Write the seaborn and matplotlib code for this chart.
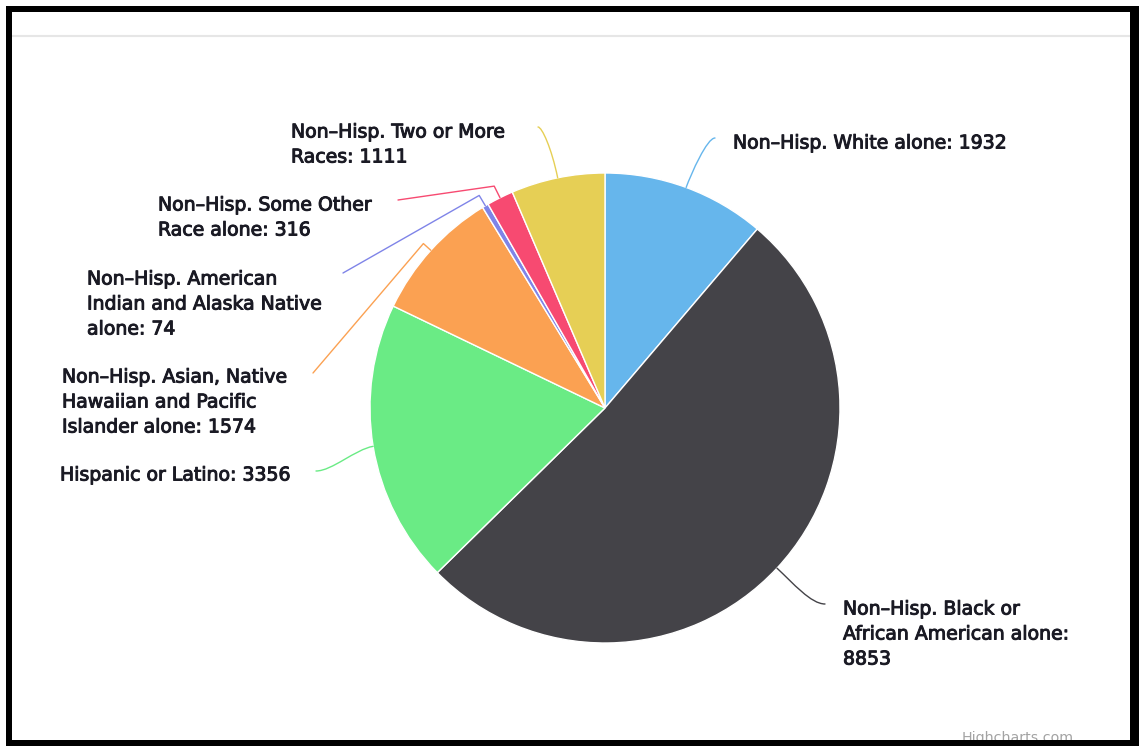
#--Race / ethnicity pie chart (Highcharts look) drawn with seaborn + matplotlib--#
import numpy as np
import seaborn as sns
import matplotlib.pyplot as plt
import matplotlib.patheffects as pe
from matplotlib.path import Path
from matplotlib.patches import PathPatch, Rectangle

#--Data--#
groups = [
    "Non–Hisp. White alone",
    "Non–Hisp. Black or African American alone",
    "Hispanic or Latino",
    "Non–Hisp. Asian, Native Hawaiian and Pacific Islander alone",
    "Non–Hisp. American Indian and Alaska Native alone",
    "Non–Hisp. Some Other Race alone",
    "Non–Hisp. Two or More Races",
]
counts = [1932, 8853, 3356, 1574, 74, 316, 1111]

# label text broken into lines the way the chart wraps them
label_lines = [
    ["Non–Hisp. White alone: 1932"],
    ["Non–Hisp. Black or", "African American alone:", "8853"],
    ["Hispanic or Latino: 3356"],
    ["Non–Hisp. Asian, Native", "Hawaiian and Pacific", "Islander alone: 1574"],
    ["Non–Hisp. American", "Indian and Alaska Native", "alone: 74"],
    ["Non–Hisp. Some Other", "Race alone: 316"],
    ["Non–Hisp. Two or More", "Races: 1111"],
]

#--Style--#
sns.set_theme(style="white")
plt.rcParams['font.family'] = ['DejaVu Sans']
colors = sns.color_palette(["#66b6ec", "#444348", "#6aeb85", "#fba152",
                            "#7f84e8", "#f74a71", "#e6cf55"])

W, H = 1139, 746
fig = plt.figure(figsize=(W / 100, H / 100), dpi=100)
ax = fig.add_axes([0, 0, 1, 1])

cx, cy, R = 605, 408, 235
# y axis is flipped (pixel-like), so counterclock=True + start -90 runs clockwise from 12 o'clock
ax.pie(counts, colors=colors, startangle=-90, counterclock=True,
       center=(cx, cy), radius=R,
       wedgeprops=dict(edgecolor="white", linewidth=1.0))
ax.set_xlim(0, W)
ax.set_ylim(H, 0)
ax.set_aspect("equal")
ax.axis("off")

#--Label placement (layout)--#
# left x of the text block, y of each line, connector end, connector style
layout = [
    dict(x=733, ys=[143], end=(715, 138), mode="curve", a=15, b=(-8, 0)),
    dict(x=843, ys=[609, 634, 659], end=(825, 604), mode="curve", a=22, b=(-14, 0)),
    dict(x=60, ys=[475], end=(316, 471), mode="curve", a=18, b=(16, 0)),
    dict(x=62, ys=[377, 402, 427], end=(313, 373), mode="elbow", a=10),
    dict(x=87, ys=[279, 304, 329], end=(343, 273), mode="elbow", a=12),
    dict(x=158, ys=[205, 230], end=(398, 200), mode="elbow", a=13),
    dict(x=291, ys=[132, 157], end=(538, 127), mode="curve", a=30, b=(4, 0)),
]

total = float(np.sum(counts))
mids = 360.0 * (np.cumsum(counts) - np.array(counts) / 2.0) / total
txt_fx = [pe.withStroke(linewidth=0.7, foreground="#1a1a24")]

for i, lay in enumerate(layout):
    th = np.radians(mids[i])
    d = np.array([np.sin(th), -np.cos(th)])
    s = np.array([cx, cy]) + R * d
    e = np.array(lay["end"], dtype=float)
    if lay["mode"] == "curve":
        c1 = s + d * lay["a"]
        c2 = e + np.array(lay["b"])
        verts = [s, c1, c2, e]
        codes = [Path.MOVETO, Path.CURVE4, Path.CURVE4, Path.CURVE4]
    else:
        elbow = s + d * lay["a"]
        verts = [s, elbow, e]
        codes = [Path.MOVETO, Path.LINETO, Path.LINETO]
    ax.add_patch(PathPatch(Path(verts, codes), fill=False, edgecolor=colors[i],
                           linewidth=1.0, capstyle="round", joinstyle="round"))
    for line, y in zip(label_lines[i], lay["ys"]):
        ax.text(lay["x"], y, line, ha="left", va="center", fontsize=13.6,
                color="#1a1a24", path_effects=txt_fx)

#--Chart chrome: top divider, credits, black frame--#
ax.plot([12, 1130], [36, 36], color="#e6e6e6", linewidth=1.5, solid_capstyle="butt")
ax.text(962, 738, "Highcharts.com", ha="left", va="center", fontsize=10.3,
        color="#a3a3a3", zorder=1)
for (x0, y0, w, h) in [(6, 6, W - 6, 6), (6, 6, 6, H - 6),
                       (6, 740, W - 6, 6), (1130, 6, W - 1130, H - 6)]:
    ax.add_patch(Rectangle((x0, y0), w, h, facecolor="black", edgecolor="none",
                           zorder=5, clip_on=False))

plt.savefig("out.png", dpi=100)
